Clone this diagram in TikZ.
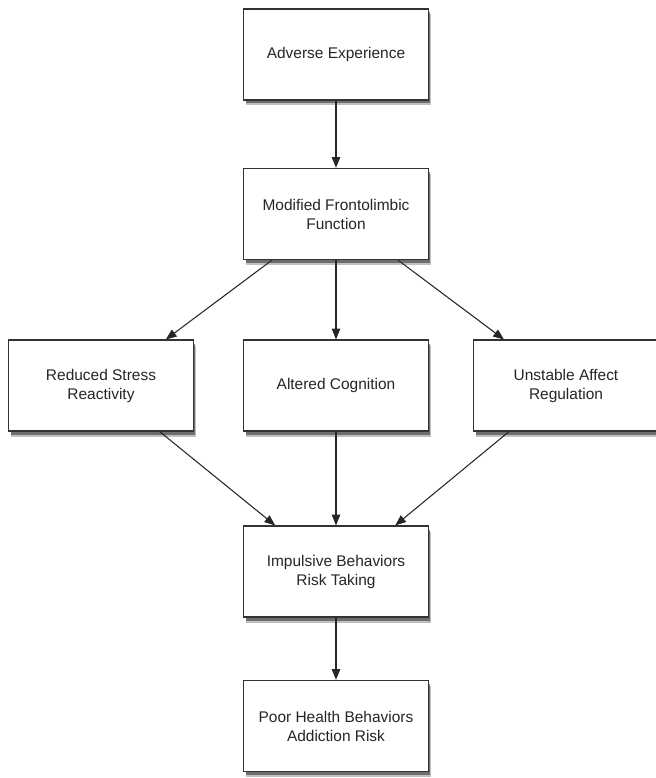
\documentclass[tikz,border=0pt]{standalone}
\usepackage{fontspec}
\setmainfont{Liberation Sans}
\usetikzlibrary{arrows.meta,shadows}

\begin{document}
\begin{tikzpicture}[
		stage/.style={draw=black!80, line width=0.9pt, fill=white, minimum width=4.62cm, minimum height=2.275cm, align=center, font=\fontsize{11}{13.5}\selectfont, text=black!85, drop shadow={shadow xshift=0.07cm, shadow yshift=-0.14cm, fill=black, opacity=0.25}, drop shadow={shadow xshift=0.05cm, shadow yshift=-0.09cm, fill=black!70, opacity=0.7}},
		link/.style={-{Triangle[length=0.27cm, width=0.21cm]}, line width=0.75pt, black!85}]
		\useasboundingbox (0, 0) rectangle (16.4, 19.45);
		\node[stage] (adverse) at (8.4, 18.09) {Adverse Experience};
		\node[stage] (modified) at (8.4, 14.1) {Modified Frontolimbic\\Function};
		\node[stage] (stress) at (2.525, 9.81) {Reduced Stress\\Reactivity};
		\node[stage] (altered) at (8.4, 9.81) {Altered Cognition};
		\node[stage] (unstable) at (14.15, 9.81) {Unstable Affect\\Regulation};
		\node[stage] (impulsive) at (8.4, 5.16) {Impulsive Behaviors\\Risk Taking};
		\node[stage] (poor) at (8.4, 1.3) {Poor Health Behaviors\\Addiction Risk};
		\foreach \a/\b in {adverse/modified, modified/altered, altered/impulsive, impulsive/poor}
			\draw[link] (\a) -- (\b);
		\draw[link] ([xshift=-1.6cm]modified.south) -- ([xshift=1.62cm]stress.north);
		\draw[link] ([xshift=1.55cm]modified.south) -- ([xshift=-1.55cm]unstable.north);
		\draw[link] ([xshift=1.47cm]stress.south) -- ([xshift=-1.52cm]impulsive.north);
		\draw[link] ([xshift=-1.43cm]unstable.south) -- ([xshift=1.48cm]impulsive.north);
	\end{tikzpicture}
\end{document}
